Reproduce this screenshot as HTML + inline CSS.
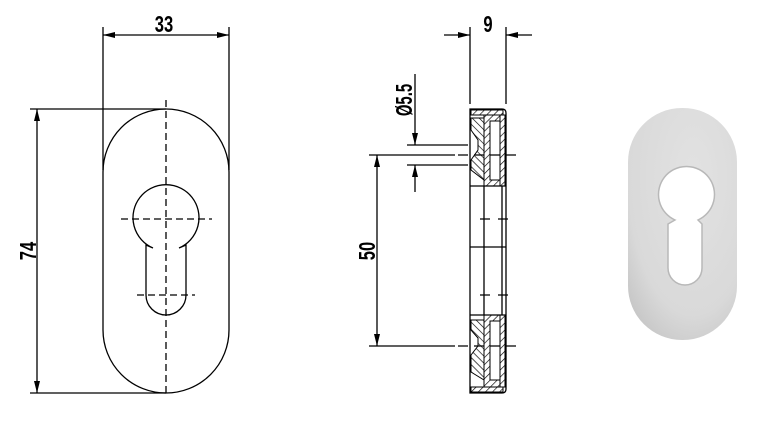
<!DOCTYPE html>
<html><head><style>body{margin:0;background:#fff}svg{display:block}text{font-family:"Liberation Sans",sans-serif;font-weight:bold;font-size:23px;fill:#000}</style></head><body>
<svg width="775" height="421" viewBox="0 0 775 421">
<defs>
<marker id="a" markerWidth="12" markerHeight="6" refX="12" refY="3" orient="auto-start-reverse" markerUnits="userSpaceOnUse"><path d="M0,0L12,3L0,6z" fill="#000"/></marker>
<pattern id="h" width="5" height="5" patternUnits="userSpaceOnUse" patternTransform="rotate(45)"><line x1="0" y1="0" x2="0" y2="5" stroke="#000" stroke-width="1.3"/></pattern>
<pattern id="h2" width="5" height="5" patternUnits="userSpaceOnUse" patternTransform="rotate(-45)"><line x1="0" y1="0" x2="0" y2="5" stroke="#000" stroke-width="1.3"/></pattern>
<radialGradient id="g" cx="0.6" cy="0.3" r="0.85"><stop offset="0" stop-color="#e2e2e2"/><stop offset="0.7" stop-color="#d9d9d9"/><stop offset="1" stop-color="#c2c2c2"/></radialGradient>
</defs>
<g stroke="#000" stroke-width="1.3" fill="none">
<rect x="103" y="109" width="126" height="284" rx="63" ry="63"/>
<path d="M153,248 A33,33 0 1 1 179,248 L186,245 L186,295 A20,20 0 0 1 146,295 L146,245 Z"/>
<line x1="166" y1="100" x2="166" y2="397" stroke-dasharray="7,4"/>
<line x1="121" y1="219" x2="212" y2="219" stroke-dasharray="7,4"/>
<line x1="137" y1="295" x2="195" y2="295" stroke-dasharray="7,4"/>
<line x1="103" y1="27" x2="103" y2="170"/><line x1="229" y1="27" x2="229" y2="170"/>
<line x1="103" y1="35" x2="229" y2="35" marker-start="url(#a)" marker-end="url(#a)"/>
<line x1="30" y1="109" x2="166" y2="109"/><line x1="30" y1="393" x2="166" y2="393"/>
<line x1="37" y1="109" x2="37" y2="393" marker-start="url(#a)" marker-end="url(#a)"/>
<line x1="470" y1="27" x2="470" y2="104"/><line x1="506" y1="27" x2="506" y2="104"/>
<line x1="444" y1="35" x2="470" y2="35" marker-end="url(#a)"/>
<line x1="532" y1="35" x2="506" y2="35" marker-end="url(#a)"/>
<path d="M470,109 H502 Q506,109 506,113 V389 Q506,393 502,393 H470 Z"/>
<line x1="484" y1="186" x2="484" y2="315"/><line x1="502" y1="186" x2="502" y2="315"/>
<line x1="470" y1="186" x2="506" y2="186"/><line x1="470" y1="247" x2="506" y2="247"/><line x1="470" y1="315" x2="506" y2="315"/>
<g fill="url(#h)" stroke-width="1">
<path d="M471,110 H503 V115 H471 Z"/>
<path d="M471,387 H503 V392 H471 Z"/>
<path d="M500,115 H505 V186 H500 Z"/><path d="M500,315 H505 V387 H500 Z"/>
<path d="M484,115 H500 V121 H490 V180 H500 V186 H484 Z"/>
<path d="M484,315 H500 V321 H490 V380 H500 V387 H484 Z"/>
</g>
<g fill="url(#h2)" stroke-width="1">
<path d="M471,118 H484 V180 L471,170 V160 L478,150 V140 L471,130 Z"/>
<path d="M471,320 H484 V380 L471,372 V355 L478,346 V338 L471,330 Z"/>
</g>
<line x1="407" y1="145" x2="468" y2="145"/><line x1="407" y1="165" x2="468" y2="165"/>
<line x1="415" y1="74" x2="415" y2="145" marker-end="url(#a)"/>
<line x1="415" y1="192" x2="415" y2="165" marker-end="url(#a)"/>
<line x1="369" y1="155" x2="455" y2="155"/><line x1="369" y1="346" x2="455" y2="346"/>
<line x1="458" y1="155" x2="518" y2="155" stroke-dasharray="10,6"/>
<line x1="458" y1="346" x2="518" y2="346" stroke-dasharray="10,6"/>
<line x1="480" y1="219" x2="516" y2="219" stroke-dasharray="10,8"/>
<line x1="480" y1="295" x2="516" y2="295" stroke-dasharray="10,8"/>
<line x1="377" y1="155" x2="377" y2="346" marker-start="url(#a)" marker-end="url(#a)"/>
</g>
<text transform="translate(164,32) scale(0.72,1)" text-anchor="middle">33</text>
<text transform="translate(488,32) scale(0.72,1)" text-anchor="middle">9</text>
<text transform="translate(36,251) rotate(-90) scale(0.72,1)" text-anchor="middle">74</text>
<text transform="translate(375,251) rotate(-90) scale(0.72,1)" text-anchor="middle">50</text>
<text transform="translate(412,100) rotate(-90) scale(0.65,1)" text-anchor="middle" font-size="20">Ø5.5</text>
<rect x="628" y="108" width="109" height="232" rx="54" ry="54" fill="url(#g)"/>
<path d="M675,220 A28,28 0 1 1 698,220 L702,224 L702,268 A17,17 0 0 1 668,268 L668,224 Z" fill="#fff" stroke="#b8b8b8" stroke-width="1.5"/>
</svg>
</body></html>
